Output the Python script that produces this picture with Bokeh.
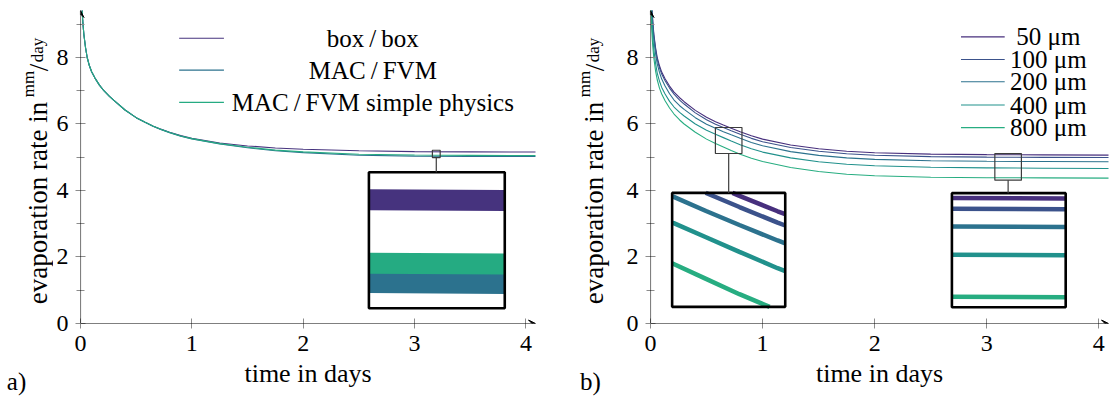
import math
from bokeh.plotting import figure
from bokeh.layouts import row
from bokeh.models import Range1d, FixedTicker, Arrow, VeeHead, Label
from bokeh.embed import file_html
from bokeh.resources import INLINE

FONT = "Liberation Serif"
FS = "24px"
FS_TXT = "25px"
FS_XL = "26px"
FS_YL = "27px"
FS_SMALL = "17px"
H = 398

# ---------------- data ----------------
time_days = [0.0, 0.01, 0.02, 0.03, 0.045, 0.06, 0.08, 0.1, 0.13, 0.17, 0.21, 0.26, 0.3,
             0.4, 0.5, 0.58, 0.65, 0.72, 0.8, 0.9, 1.0, 1.25, 1.5, 1.75, 2.0, 2.5, 3.0, 3.5, 4.1]

# panel a
box_box = [11.0, 9.7, 9.1, 8.7, 8.3, 8.0, 7.75, 7.57, 7.38, 7.17, 7.0, 6.83, 6.71,
           6.42, 6.19, 6.05, 5.94, 5.845, 5.75, 5.65, 5.57, 5.43, 5.34, 5.28, 5.24, 5.195, 5.168, 5.16, 5.156]
mac_fvm = [11.0, 9.7, 9.1, 8.7, 8.3, 8.0, 7.75, 7.57, 7.38, 7.17, 7.0, 6.83, 6.71,
           6.42, 6.19, 6.05, 5.935, 5.838, 5.74, 5.635, 5.55, 5.40, 5.285, 5.195, 5.14, 5.062, 5.035, 5.024, 5.02]
mac_fvm_simple = [11.0, 9.7, 9.1, 8.7, 8.3, 8.0, 7.75, 7.57, 7.38, 7.17, 7.0, 6.83, 6.71,
                  6.42, 6.19, 6.05, 5.937, 5.84, 5.743, 5.64, 5.56, 5.41, 5.30, 5.215, 5.16, 5.09, 5.066, 5.056, 5.05]
labels_a = ["box\u2009/\u2009box", "MAC\u2009/\u2009FVM", "MAC\u2009/\u2009FVM simple physics"]

# panel b
r50 = [10.8, 9.7, 9.1, 8.7, 8.3, 8.0, 7.75, 7.56, 7.36, 7.14, 6.96, 6.79, 6.67,
       6.41, 6.2, 6.07, 5.97, 5.874, 5.768, 5.645, 5.545, 5.37, 5.255, 5.18, 5.135, 5.095, 5.078, 5.07, 5.065]
r100 = [10.8, 9.65, 9.05, 8.64, 8.24, 7.94, 7.69, 7.5, 7.3, 7.08, 6.9, 6.72, 6.6,
        6.335, 6.125, 5.995, 5.893, 5.797, 5.69, 5.568, 5.468, 5.293, 5.178, 5.103, 5.058, 5.018, 5.002, 4.995, 4.99]
r200 = [10.7, 9.55, 8.95, 8.53, 8.12, 7.81, 7.55, 7.35, 7.14, 6.91, 6.72, 6.55, 6.44,
        6.19, 5.995, 5.87, 5.77, 5.674, 5.568, 5.445, 5.345, 5.17, 5.055, 4.98, 4.935, 4.895, 4.878, 4.87, 4.865]
r400 = [10.4, 9.23, 8.63, 8.23, 7.83, 7.53, 7.29, 7.1, 6.9, 6.68, 6.51, 6.35, 6.24,
        6.0, 5.81, 5.69, 5.59, 5.49, 5.378, 5.255, 5.155, 4.98, 4.865, 4.79, 4.745, 4.7, 4.68, 4.67, 4.663]
r800 = [10.0, 8.9, 8.35, 7.98, 7.6, 7.33, 7.08, 6.9, 6.7, 6.48, 6.3, 6.12, 6.0,
        5.75, 5.545, 5.41, 5.305, 5.2, 5.09, 4.97, 4.87, 4.69, 4.57, 4.49, 4.445, 4.4, 4.385, 4.378, 4.372]
labels_b = ["50 \u03bcm", "100 \u03bcm", "200 \u03bcm", "400 \u03bcm", "800 \u03bcm"]

x_ticks = [0, 1, 2, 3, 4]
y_ticks = [0, 2, 4, 6, 8]
y_minor = [1, 3, 5, 7, 9]

COLORS_A = ["#46337e", "#2c728e", "#25ab82"]
COLORS_B = ["#472f7d", "#3b528b", "#2c728e", "#21918c", "#27ad81"]

# ---------------- layout constants ----------------
XMAX, YMAX = 4.086, 9.413
PX_PER_UNIT = 313 / YMAX
FRAME_BOTTOM_PX = 323.3
# insets: (source x0, x1, y0, y1), (target x0, x1, y0, y1), zoomed line width
INSETS_A = [((3.16, 3.23, 4.99, 5.21), (2.59, 3.81, 0.46, 4.55), 21)]
INSETS_B = [((0.579, 0.816, 5.113, 5.894), (0.193, 1.202, 0.50, 3.928), 4.5),
            ((3.072, 3.309, 4.31, 5.11), (2.689, 3.704, 0.49, 3.92), 4.5)]


def pv(page_y):
    """page pixel row -> value units of the aligned frames"""
    return (FRAME_BOTTOM_PX - page_y) / PX_PER_UNIT


def clip_polyline(xs, ys, x0, x1, y0, y1):
    pieces, cx, cy = [], [], []
    for i in range(len(xs) - 1):
        ax, ay, bx, by = xs[i], ys[i], xs[i + 1], ys[i + 1]
        dx, dy = bx - ax, by - ay
        t0, t1, ok = 0.0, 1.0, True
        for p, q in ((-dx, ax - x0), (dx, x1 - ax), (-dy, ay - y0), (dy, y1 - ay)):
            if p == 0:
                if q < 0:
                    ok = False
                    break
            else:
                r = q / p
                if p < 0:
                    if r > t1:
                        ok = False
                        break
                    t0 = max(t0, r)
                else:
                    if r < t0:
                        ok = False
                        break
                    t1 = min(t1, r)
        if not ok:
            if cx:
                pieces.append((cx, cy))
                cx, cy = [], []
            continue
        if not cx:
            cx, cy = [ax + t0 * dx], [ay + t0 * dy]
        cx.append(ax + t1 * dx)
        cy.append(ay + t1 * dy)
        if t1 < 1.0:
            pieces.append((cx, cy))
            cx, cy = [], []
    if cx:
        pieces.append((cx, cy))
    return pieces


def make_fig(width, left, right):
    p = figure(width=width, height=H, x_range=Range1d(0, XMAX), y_range=Range1d(0, YMAX),
               output_backend="svg", toolbar_location=None,
               min_border_left=left, min_border_right=right, min_border_top=10, min_border_bottom=75)
    p.outline_line_color = None
    p.grid.visible = False
    p.background_fill_color = "white"
    p.border_fill_color = "white"
    p.xaxis.ticker = FixedTicker(ticks=x_ticks)
    p.yaxis.ticker = FixedTicker(ticks=y_ticks, minor_ticks=y_minor)
    for ax in (p.xaxis, p.yaxis):
        ax.axis_line_color = None
        ax.major_tick_line_color = "#8c8c8c"
        ax.minor_tick_line_color = "#8c8c8c"
        ax.major_tick_in = 5
        ax.major_tick_out = 5
        ax.minor_tick_in = 4
        ax.minor_tick_out = 4
        ax.major_label_text_font = FONT
        ax.major_label_text_font_size = FS
        ax.major_label_text_color = "black"
    p.xaxis.major_label_standoff = 7
    p.yaxis.major_label_standoff = 7
    p.xaxis.axis_label = "time in days"
    p.xaxis.axis_label_text_font = FONT
    p.xaxis.axis_label_text_font_size = FS_XL
    p.xaxis.axis_label_text_font_style = "normal"
    p.xaxis.axis_label_text_color = "black"
    p.xaxis.axis_label_standoff = 5
    p.add_layout(Arrow(end=VeeHead(size=7, line_color="black", fill_color="black", line_width=1),
                       x_start=0, y_start=0, x_end=XMAX, y_end=0, line_width=1.1, line_color="black"))
    p.add_layout(Arrow(end=VeeHead(size=7, line_color="black", fill_color="black", line_width=1),
                       x_start=0, y_start=0, x_end=0, y_end=YMAX, line_width=1.1, line_color="black"))
    return p


def text_fig(width, tag_x, tag):
    # narrow blank figure: its frame (aligned with the panels) holds the rotated y label,
    # its x axis carries the panel tag as a single tick label
    f = figure(width=width, height=H, x_range=Range1d(0, width), y_range=Range1d(0, YMAX),
               output_backend="svg", toolbar_location=None, min_border_left=0, min_border_right=0,
               min_border_top=10, min_border_bottom=75, y_axis_location=None)
    f.outline_line_color = None
    f.grid.visible = False
    f.background_fill_color = "white"
    f.border_fill_color = "white"
    f.xaxis.ticker = FixedTicker(ticks=[tag_x])
    f.xaxis.major_label_overrides = {tag_x: tag}
    f.xaxis.axis_line_color = None
    f.xaxis.major_tick_line_color = None
    f.xaxis.minor_tick_line_color = None
    f.xaxis.major_tick_out = 0
    f.xaxis.major_tick_in = 0
    f.xaxis.major_label_standoff = 44
    f.xaxis.major_label_text_font = FONT
    f.xaxis.major_label_text_font_size = FS_TXT
    f.xaxis.major_label_text_color = "black"
    return f


def add_text(p, x, y, text, size=FS_TXT, angle=0.0, align="left", baseline="alphabetic"):
    p.add_layout(Label(x=x, y=y, text=text, text_font=FONT, text_font_size=size, angle=angle,
                       text_align=align, text_baseline=baseline, text_color="black"))


def add_insets(p, insets, series, colors):
    for (sx0, sx1, sy0, sy1), (tx0, tx1, ty0, ty1), lw in insets:
        p.quad(left=[tx0], right=[tx1], bottom=[ty0], top=[ty1], fill_color="white", line_color=None)
        sub = p.subplot(x_source=Range1d(sx0, sx1), y_source=Range1d(sy0, sy1),
                        x_target=Range1d(tx0, tx1), y_target=Range1d(ty0, ty1))
        for ys, c in zip(series, colors):
            pieces = clip_polyline(time_days, ys, sx0, sx1, sy0, sy1)
            if pieces:
                sub.multi_line(xs=[pc[0] for pc in pieces], ys=[pc[1] for pc in pieces],
                               line_color=c, line_width=lw, line_cap="butt")
        p.quad(left=[tx0], right=[tx1], bottom=[ty0], top=[ty1], fill_color=None,
               line_color="black", line_width=2.6)
        p.quad(left=[sx0], right=[sx1], bottom=[sy0], top=[sy1], fill_color=None,
               line_color="#3c3c3c", line_width=1.2)
        cxm = 0.5 * (sx0 + sx1)
        p.segment(x0=[cxm], y0=[sy0], x1=[cxm], y1=[ty1], line_color="#3c3c3c", line_width=1.2)


def add_ylabel(f, xb):
    up = math.pi / 2
    add_text(f, xb, pv(304), "evaporation rate in", size=FS_YL, angle=up)
    add_text(f, xb - 9, pv(97), "mm", size=FS_SMALL, angle=up)
    add_text(f, xb + 1, pv(71), "/", size=FS_YL, angle=up)
    add_text(f, xb, pv(62), "day", size=FS_SMALL, angle=up)


# ---------------- panel a ----------------
la = text_fig(53, 16, "a)")
add_ylabel(la, 37)
pa = make_fig(520, 24, 38)
series_a = [box_box, mac_fvm, mac_fvm_simple]
for ys, c in zip(series_a, COLORS_A):
    pa.line(time_days, ys, line_color=c, line_width=1.1)
add_insets(pa, INSETS_A, series_a, COLORS_A)
leg_y_a = [8.58, 7.62, 6.65]
for yy, c, lab in zip(leg_y_a, COLORS_A, labels_a):
    pa.segment(x0=[0.886], y0=[yy], x1=[1.288], y1=[yy], line_color=c, line_width=1.1)
    add_text(pa, 2.625, yy, lab, align="center", baseline="middle")

# ---------------- panel b ----------------
lb = text_fig(50, 17, "b)")
add_ylabel(lb, 20)
pb = make_fig(487, 27, 2)
series_b = [r50, r100, r200, r400, r800]
for ys, c in zip(series_b, COLORS_B):
    pb.line(time_days, ys, line_color=c, line_width=1.1)
add_insets(pb, INSETS_B, series_b, COLORS_B)
leg_y_b = [8.62, 7.94, 7.27, 6.57, 5.89]
for yy, c, lab in zip(leg_y_b, COLORS_B, labels_b):
    pb.segment(x0=[2.77], y0=[yy], x1=[3.16], y1=[yy], line_color=c, line_width=1.1)
    add_text(pb, 3.55, yy, lab, align="center", baseline="middle")

layout = row(la, pa, lb, pb)
open("out.html", "w").write(file_html(layout, INLINE))
